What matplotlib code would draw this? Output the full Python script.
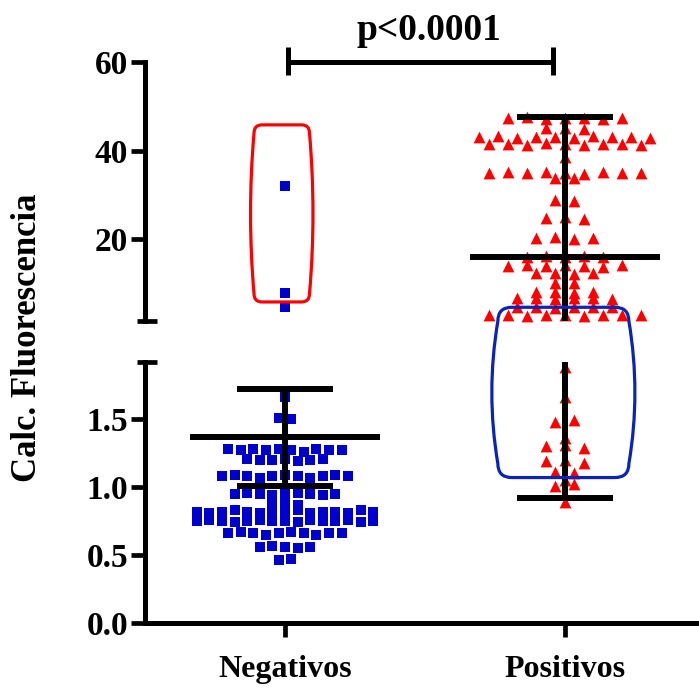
"""Scatter plot with broken y axis: Negativos vs Positivos (Prism style)."""

import numpy as np
import matplotlib

matplotlib.use("Agg")
import matplotlib.pyplot as plt
from matplotlib.path import Path
from matplotlib.patches import PathPatch
from matplotlib.transforms import IdentityTransform

plt.rcParams.update({
    "font.family": ["Liberation Serif", "DejaVu Serif"],
    "font.weight": "bold",
    "axes.linewidth": 3.6,
})

W, H = 699, 688

groups = ["Negativos", "Positivos"]

neg_values = [
    32.0, 7.8, 4.6,
    1.66,
    1.51, 1.50,
    1.28, 1.27, 1.28, 1.27, 1.28, 1.27, 1.26, 1.28, 1.27, 1.27,
    1.21, 1.20, 1.20, 1.21, 1.19, 1.20, 1.21,
    1.08, 1.09, 1.08, 1.07, 1.08, 1.09, 1.08, 1.07, 1.08, 1.09, 1.08,
    0.95, 0.96, 0.95, 0.94, 0.95, 0.96, 0.95, 0.94, 0.95,
    0.87, 0.88, 0.87,
    0.82, 0.81, 0.82, 0.83, 0.82, 0.81, 0.82, 0.82, 0.83, 0.81, 0.82, 0.82, 0.81, 0.83, 0.82,
    0.75, 0.76, 0.75, 0.74, 0.75, 0.76, 0.75, 0.75, 0.74, 0.76, 0.75, 0.75, 0.76, 0.74, 0.75,
    0.66, 0.67, 0.66, 0.65, 0.66, 0.67, 0.66, 0.65, 0.66, 0.66,
    0.56, 0.57, 0.56, 0.55, 0.56,
    0.46, 0.47,
]

pos_values = [
    47.3, 47.5, 47.2, 47.4, 47.3, 47.1, 47.4,
    45.0, 45.2, 44.9,
    43.0, 43.2, 42.9, 43.1, 43.0, 42.8, 43.2, 43.0, 43.1, 42.9,
    41.4, 41.5, 41.3, 41.6, 41.4, 41.2, 41.5, 41.4, 41.3,
    38.5,
    35.0, 35.1, 34.9, 35.2, 35.0, 34.8, 35.1, 35.0, 34.9,
    33.8, 33.9,
    28.9, 28.6,
    24.7, 24.9, 24.6,
    20.2, 20.4, 20.1, 20.3,
    16.0, 16.2, 15.9, 16.1, 16.0,
    14.0, 14.1, 13.9, 14.2, 14.0, 13.8, 14.1,
    12.3, 12.4, 12.2, 12.3,
    10.0, 10.1,
    8.0, 8.1, 7.9, 8.0,
    6.6, 6.7, 6.5, 6.6, 6.7, 6.5,
    4.6, 4.7, 4.5, 4.6, 4.7, 4.6,
    2.8, 2.9, 2.7, 2.8, 2.9, 2.7, 2.8, 2.8, 2.9,
    1.88,
    1.66,
    1.48, 1.49,
    1.36,
    1.30, 1.31, 1.29,
    1.19, 1.20, 1.18,
    1.11, 1.10,
    1.05,
    1.01, 1.02,
    0.89,
]

means = [1.37, 15.9]
err_low = [1.01, 0.92]
err_high = [1.72, 47.5]

lower_lim = (0.0, 1.92)
upper_lim = (1.5, 60.0)
lower_ticks = [0.0, 0.5, 1.0, 1.5]
upper_ticks = [20, 40, 60]

p_text = "p<0.0001"
y_label = "Calc. Fluorescencia"

BLUE = "#0000CC"
RED = "#FF0000"
BOX_BLUE = "#0A24B8"


def fx(px):
    return px / W


def fy(py):
    return 1 - py / H


fig = plt.figure(figsize=(W / 100, H / 100), dpi=100)
ax_lo = fig.add_axes([fx(145), fy(623), fx(699) - fx(145), fy(362) - fy(623)])
ax_up = fig.add_axes([fx(145), fy(321), fx(699) - fx(145), fy(62) - fy(321)])

for ax, lim in ((ax_lo, lower_lim), (ax_up, upper_lim)):
    ax.set_xlim(0.5, 2.479)
    ax.set_ylim(*lim)
    ax.patch.set_alpha(0)
    for s in ("top", "right"):
        ax.spines[s].set_visible(False)
    ax.tick_params(axis="y", length=10, width=3.4, pad=2, labelsize=24)
    ax.tick_params(axis="x", length=10, width=3.4, pad=13, labelsize=23)

ax_up.spines["bottom"].set_visible(False)
ax_up.set_xticks([])
ax_up.set_yticks(upper_ticks)
ax_up.set_yticklabels([f"{t:d}" for t in upper_ticks])
ax_lo.set_yticks(lower_ticks)
ax_lo.set_yticklabels([f"{t:.1f}" for t in lower_ticks])
ax_lo.set_xticks([1, 2])
ax_lo.set_xticklabels(groups)
for lab in ax_lo.get_xticklabels() + ax_lo.get_yticklabels() + ax_up.get_yticklabels():
    lab.set_fontweight("bold")


def swarm_x(ax, center, values, step_px, tol_px=3.0):
    vals = np.asarray(values, float)
    ypix = ax.transData.transform(np.column_stack([np.ones_like(vals), vals]))[:, 1]
    order = np.argsort(ypix, kind="stable")
    rows, cur = [], [order[0]]
    for i in order[1:]:
        if ypix[i] - ypix[cur[0]] <= tol_px:
            cur.append(i)
        else:
            rows.append(cur)
            cur = [i]
    rows.append(cur)
    off = np.zeros(len(vals))
    for row in rows:
        row = sorted(row)
        n = len(row)
        for k, i in enumerate(row):
            off[i] = (k - (n - 1) / 2) * step_px
    ppu = ax.transData.transform((1, 0))[0] - ax.transData.transform((0, 0))[0]
    return center + off / ppu


styles = [dict(marker="s", s=44, color=BLUE, step=12.6),
          dict(marker="^", s=72, color=RED, step=19.0)]

for i, vals in enumerate([neg_values, pos_values]):
    st = styles[i]
    lo = [v for v in vals if v <= lower_lim[1]]
    up = [v for v in vals if v > lower_lim[1]]
    for ax, part in ((ax_lo, lo), (ax_up, up)):
        if not part:
            continue
        xs = swarm_x(ax, i + 1, part, st["step"])
        ax.scatter(xs, part, marker=st["marker"], s=st["s"], color=st["color"],
                   linewidths=0, clip_on=False, zorder=2)

# mean and SD bars; values above the break belong to the upper axes
line_kw = dict(color="black", lw=4.3, zorder=3, capstyle="butt")
segments = ((ax_lo, lower_lim[0], lower_lim[1], lower_lim[0]),
            (ax_up, lower_lim[1], upper_lim[1], upper_lim[0]))
for i in range(len(groups)):
    x = i + 1
    for ax, a, b, floor in segments:
        if err_high[i] > a and err_low[i] < b:
            ax.vlines(x, max(err_low[i], floor), min(err_high[i], b), **line_kw)
        for yc in (err_low[i], err_high[i]):
            if a < yc <= b or (a == 0 and yc == 0):
                ax.hlines(yc, x - 0.172, x + 0.172, **line_kw)
        if a < means[i] <= b:
            ax.hlines(means[i], x - 0.34, x + 0.34, **line_kw)

# axis break end caps
for ax, yy in ((ax_up, upper_lim[0]), (ax_lo, lower_lim[1])):
    x0, y0 = ax.transData.transform((0.5, yy))
    fig.add_artist(plt.Line2D([fx(x0 - 8), fx(x0 + 12)], [y0 / H, y0 / H],
                              color="black", lw=3.4, solid_capstyle="butt"))

# significance bracket
ax_up.plot([1.01, 1.957], [60, 60], color="black", lw=3.6, clip_on=False,
           solid_capstyle="butt")
for xb in (1.01, 1.957):
    ax_up.plot([xb, xb], [57.0, 63.4], color="black", lw=3.6, clip_on=False,
               solid_capstyle="butt")
ax_up.text(1.515, 65.0, p_text, ha="center", va="baseline", fontsize=27,
           fontweight="bold")

fig.text(fx(27), fy(338), y_label, rotation=90, ha="center", va="center",
         fontsize=25, fontweight="bold")


def barrel(xl, xr, ytop, ybot, bulge, r):
    # display coords, y up
    a, b = xl + bulge, xr - bulge
    h2 = (ytop - ybot) - 2 * r
    k = 4 / 3 * bulge
    verts = [
        (a + r, ytop), (b - r, ytop),
        (b, ytop), (b, ytop - r),
        (b + k, ytop - r - h2 / 3), (b + k, ytop - r - 2 * h2 / 3), (b, ybot + r),
        (b, ybot), (b - r, ybot),
        (a + r, ybot),
        (a, ybot), (a, ybot + r),
        (a - k, ybot + r + h2 / 3), (a - k, ybot + r + 2 * h2 / 3), (a, ytop - r),
        (a, ytop), (a + r, ytop),
        (a + r, ytop),
    ]
    codes = [Path.MOVETO, Path.LINETO, Path.CURVE3, Path.CURVE3,
             Path.CURVE4, Path.CURVE4, Path.CURVE4, Path.CURVE3, Path.CURVE3,
             Path.LINETO, Path.CURVE3, Path.CURVE3,
             Path.CURVE4, Path.CURVE4, Path.CURVE4, Path.CURVE3, Path.CURVE3,
             Path.CLOSEPOLY]
    return Path(verts, codes)


# highlight boxes (annotation)
rx0, rt = ax_up.transData.transform((0.877, 45.8))
rx1, rb = ax_up.transData.transform((1.10, 5.8))
fig.add_artist(PathPatch(barrel(rx0, rx1, rt, rb, 3.5, 8), transform=IdentityTransform(),
                         fill=False, edgecolor=RED, lw=2.3, zorder=5))
bx0, bt = ax_up.transData.transform((1.739, 4.6))
bx1, bb = ax_lo.transData.transform((2.25, 1.07))
fig.add_artist(PathPatch(barrel(bx0, bx1, bt, bb, 6, 14), transform=IdentityTransform(),
                         fill=False, edgecolor=BOX_BLUE, lw=2.3, zorder=5))

fig.savefig("out.png", dpi=100)
